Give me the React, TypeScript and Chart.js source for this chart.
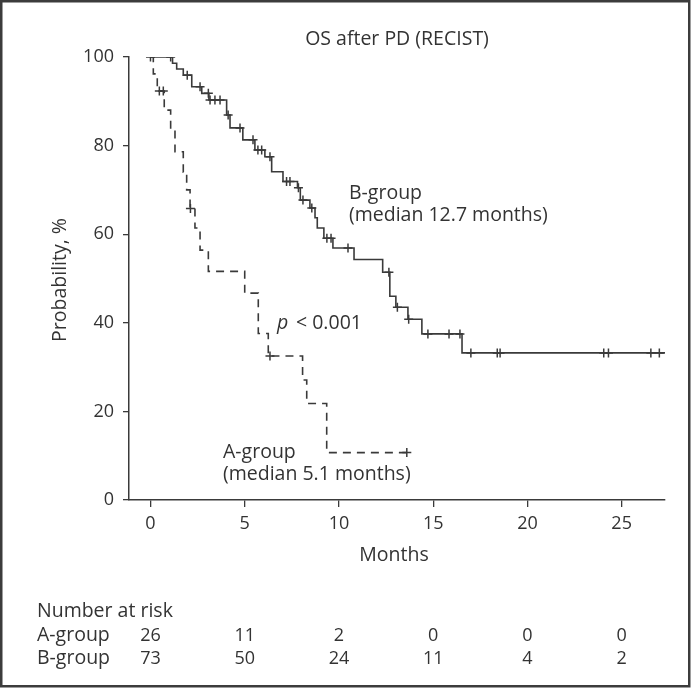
import React, { useEffect, useRef } from "react";
import { Chart, registerables } from "chart.js";

Chart.register(...registerables);

const FONT = "'Open Sans', 'Noto Sans', sans-serif";
const INK = "#333333";
const LINE = "#3a3a3a";

// B-group (solid) Kaplan-Meier steps: time (months) and survival (%) after each drop
const bTimes = [0, 1.17, 1.39, 1.74, 2.19, 2.72, 3.1, 4.04, 4.22, 4.9, 5.54, 6.07, 6.43, 7.03, 7.8, 7.95, 8.46, 8.73, 8.85, 9.2, 9.68, 10.8, 12.32, 12.7, 13.02, 13.66, 14.4, 16.53, 27.3];
const bSurv = [100, 98.6, 97.3, 95.9, 93.3, 91.8, 90.3, 86.9, 84.0, 81.3, 79.0, 77.5, 74.1, 71.9, 70.5, 67.7, 65.9, 63.7, 61.4, 59.1, 56.9, 54.3, 51.4, 46.0, 43.5, 40.8, 37.5, 33.2, 33.2];
// B-group censoring marks
const bCensTimes = [0, 1.07, 1.95, 2.63, 3.07, 3.16, 3.42, 3.69, 4.12, 4.75, 5.44, 5.7, 5.9, 6.34, 7.22, 7.4, 7.85, 8.09, 8.56, 9.36, 9.58, 10.48, 12.65, 13.1, 13.7, 14.72, 15.84, 16.42, 17.0, 18.4, 18.55, 24.05, 24.3, 26.55, 27.0];
const bCensSurv = [100, 100, 95.9, 93.3, 91.8, 90.3, 90.3, 90.3, 86.9, 84.0, 81.3, 79.0, 79.0, 77.5, 71.9, 71.9, 70.5, 67.7, 65.9, 59.1, 59.1, 56.9, 51.4, 43.5, 40.8, 37.5, 37.5, 37.5, 33.2, 33.2, 33.2, 33.2, 33.2, 33.2, 33.2];

// A-group (dashed)
const aTimes = [0, 0.15, 0.36, 0.73, 1.07, 1.3, 1.74, 1.92, 2.1, 2.36, 2.63, 3.07, 5.0, 5.72, 6.25, 8.07, 8.29, 9.35, 13.6];
const aSurv = [100, 96.2, 92.3, 88.0, 83.5, 78.6, 74.0, 70.0, 65.8, 61.4, 56.4, 51.6, 46.7, 37.6, 32.5, 27.1, 21.8, 10.7, 10.7];
const aCensTimes = [0.47, 0.68, 2.12, 6.34, 13.6];
const aCensSurv = [92.3, 92.3, 65.8, 32.5, 10.7];

const xTicks = [0, 5, 10, 15, 20, 25];
const yTicks = [0, 20, 40, 60, 80, 100];
const riskA = [26, 11, 2, 0, 0, 0];
const riskB = [73, 50, 24, 11, 4, 2];

const toPts = (xs: number[], ys: number[]) => xs.map((x, i) => ({ x, y: ys[i] }));

const WORD = `19.5px ${FONT}`;
const NUM = `18px ${FONT}`;

const overlay = {
  id: "overlay",
  afterDraw(chart: any) {
    const { ctx, scales } = chart;
    const xs = scales.x;
    ctx.save();
    ctx.strokeStyle = "#3c3c3c";
    ctx.lineWidth = 2.5;
    ctx.strokeRect(1.25, 1.25, 688, 685);

    ctx.fillStyle = INK;
    ctx.font = WORD;
    ctx.textBaseline = "alphabetic";
    ctx.textAlign = "center";
    ctx.fillText("OS after PD (RECIST)", 397, 45);
    ctx.fillText("Months", 394, 561);

    ctx.save();
    ctx.translate(66, 280);
    ctx.rotate(-Math.PI / 2);
    ctx.fillText("Probability, %", 0, 0);
    ctx.restore();

    ctx.textAlign = "left";
    ctx.fillText("B-group", 349, 199);
    ctx.fillText("(median 12.7 months)", 349, 221);
    ctx.fillText("A-group", 223, 458);
    ctx.fillText("(median 5.1 months)", 223, 480);

    ctx.font = `italic 19.5px ${FONT}`;
    ctx.fillText("p", 277, 329);
    ctx.font = WORD;
    ctx.fillText("< 0.001", 296, 329);

    ctx.fillText("Number at risk", 37, 617);
    ctx.fillText("A-group", 37, 641);
    ctx.fillText("B-group", 37, 664);
    ctx.font = NUM;
    ctx.textAlign = "center";
    xTicks.forEach((t, i) => {
      const px = xs.getPixelForValue(t);
      ctx.fillText(String(riskA[i]), px, 641);
      ctx.fillText(String(riskB[i]), px, 664);
    });
    ctx.restore();
  },
};

export default function App() {
  const ref = useRef<HTMLCanvasElement | null>(null);
  useEffect(() => {
    const canvas = ref.current;
    if (!canvas) return;
    const chart = new Chart(canvas, {
      type: "line",
      data: {
        datasets: [
          {
            data: toPts(bTimes, bSurv),
            stepped: "before",
            borderColor: LINE,
            borderWidth: 1.6,
            pointRadius: 0,
            fill: false,
          },
          {
            data: toPts(aTimes, aSurv),
            stepped: "before",
            borderColor: LINE,
            borderWidth: 1.6,
            borderDash: [8, 6],
            pointRadius: 0,
            fill: false,
          },
          {
            data: toPts(bCensTimes, bCensSurv),
            showLine: false,
            pointStyle: "cross",
            pointRadius: 4.5,
            borderColor: LINE,
            pointBorderWidth: 1.5,
          },
          {
            data: toPts(aCensTimes, aCensSurv),
            showLine: false,
            pointStyle: "cross",
            pointRadius: 4.5,
            borderColor: LINE,
            pointBorderWidth: 1.5,
          },
        ],
      },
      options: {
        responsive: false,
        animation: false,
        layout: { padding: { left: 0, top: 57, right: 26, bottom: 128 } },
        plugins: { legend: { display: false }, tooltip: { enabled: false }, title: { display: false } },
        scales: {
          x: {
            type: "linear",
            min: -1.14,
            max: 27.3,
            afterBuildTicks: (s: any) => {
              s.ticks = xTicks.map((v) => ({ value: v }));
            },
            afterFit: (s: any) => {
              s.height = 60;
            },
            grid: { drawOnChartArea: false, drawTicks: true, tickLength: 7, color: LINE, lineWidth: 1.3 },
            border: { display: true, color: LINE, width: 1.5 },
            ticks: { color: INK, font: { family: FONT, size: 18 }, padding: 6, maxRotation: 0, autoSkip: false },
          },
          y: {
            type: "linear",
            min: 0,
            max: 100,
            afterBuildTicks: (s: any) => {
              s.ticks = yTicks.map((v) => ({ value: v }));
            },
            afterFit: (s: any) => {
              s.width = 129;
            },
            grid: { drawOnChartArea: false, drawTicks: true, tickLength: 6, color: LINE, lineWidth: 1.3 },
            border: { display: true, color: LINE, width: 1.5 },
            ticks: { color: INK, font: { family: FONT, size: 18 }, padding: 9 },
          },
        },
      },
      plugins: [overlay],
    });
    return () => chart.destroy();
  }, []);
  return (
    <div style={{ position: "absolute", left: 0, top: 0, width: 691, height: 688, background: "#fff" }}>
      <canvas ref={ref} width={691} height={688} style={{ display: "block" }} />
    </div>
  );
}
